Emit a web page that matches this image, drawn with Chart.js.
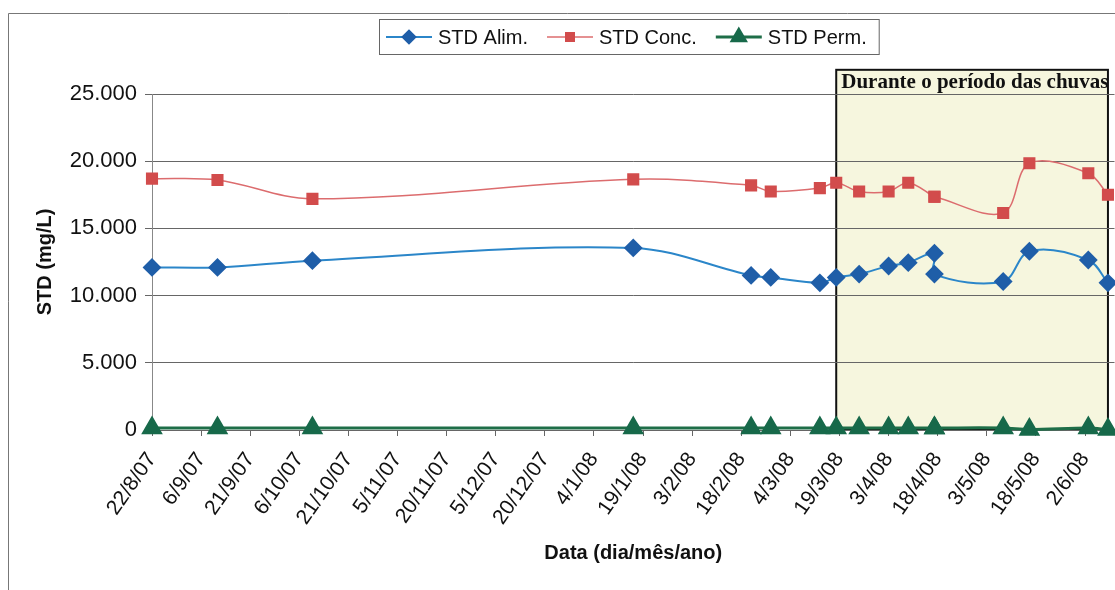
<!DOCTYPE html>
<html>
<head>
<meta charset="utf-8">
<script src="https://cdn.jsdelivr.net/npm/chart.js@4.4.1/dist/chart.umd.min.js"></script>
<style>
  html, body { margin: 0; padding: 0; background: #fff; overflow: hidden; }
  /* the reference is a crop: the chart continues a little past the right edge */
  #wrap { position: relative; width: 1127px; height: 590px; }
</style>
</head>
<body>
<div id="wrap"><canvas id="stdChart"></canvas></div>
<script>
// sampling dates (dia/mes/ano) - two samples on 17/4/08
const sampleDates = ['22/8/07', '11/9/07', '10/10/07', '16/1/08', '21/2/08', '27/2/08', '13/3/08', '18/3/08',
    '25/3/08', '3/4/08', '9/4/08', '17/4/08', '17/4/08', '8/5/08', '16/5/08', '3/6/08', '9/6/08'];
const stdAlim = [12100, 12100, 12600, 13550, 11500, 11350, 10950, 11350,
    11600, 12200, 12450, 13150, 11600, 11050, 13300, 12650, 10950];
const stdConc = [18700, 18600, 17200, 18650, 18200, 17750, 18000, 18400,
    17750, 17750, 18400, 17350, 17350, 16150, 19850, 19100, 17500];
const stdPerm = [150, 150, 150, 150, 150, 150, 150, 150,
    150, 150, 150, 150, 150, 150, 30, 150, 30];
const tickLabels = ['22/8/07', '6/9/07', '21/9/07', '6/10/07', '21/10/07', '5/11/07', '20/11/07', '5/12/07',
    '20/12/07', '4/1/08', '19/1/08', '3/2/08', '18/2/08', '4/3/08', '19/3/08', '3/4/08', '18/4/08',
    '3/5/08', '18/5/08', '2/6/08'];

// rainy period highlight
const rainStart = '18/3/08';
const rainEnd = '9/6/08';
const rainTop = 26800;
const rainLabel = 'Durante o período das chuvas';

function dayOf(s) {
    const [d, m, y] = s.split('/').map(Number);
    const [d0, m0, y0] = tickLabels[0].split('/').map(Number);
    return Math.round((Date.UTC(2000 + y, m - 1, d) - Date.UTC(2000 + y0, m0 - 1, d0)) / 86400000);
}

function fmt(v) {
    return String(v).replace(/\B(?=(\d{3})+(?!\d))/g, '.');
}

const sans = '"Liberation Sans", Arial, sans-serif';

// outer chart frame (only left/top edges are inside the crop)
const frame = {
    id: 'frame',
    beforeDraw(chart) {
        const ctx = chart.ctx;
        ctx.save();
        ctx.strokeStyle = '#777';
        ctx.lineWidth = 1;
        ctx.beginPath();
        ctx.moveTo(8.5, 590);
        ctx.lineTo(8.5, 13.5);
        ctx.lineTo(chart.width, 13.5);
        ctx.stroke();
        ctx.restore();
    }
};

const rainBox = {
    id: 'rainBox',
    beforeDraw(chart) {
        const ctx = chart.ctx;
        const xs = chart.scales.x, ys = chart.scales.y;
        const x0 = xs.getPixelForValue(dayOf(rainStart));
        const x1 = xs.getPixelForValue(dayOf(rainEnd));
        const y0 = ys.getPixelForValue(rainTop);
        const y1 = ys.getPixelForValue(0);
        ctx.save();
        ctx.fillStyle = '#f6f6de';
        ctx.fillRect(x0, y0, x1 - x0, y1 - y0);
        ctx.strokeStyle = '#111';
        ctx.lineWidth = 2;
        ctx.strokeRect(x0, y0, x1 - x0, y1 - y0);
        ctx.fillStyle = '#111';
        ctx.font = 'bold 21px "Liberation Serif", "Times New Roman", serif';
        ctx.textBaseline = 'middle';
        ctx.fillText(rainLabel, x0 + 5, y0 + 13);
        ctx.restore();
    }
};

const legendBox = {
    id: 'legendBox',
    afterDraw(chart) {
        const ctx = chart.ctx;
        const y = 37;
        let x = 386;
        ctx.save();
        ctx.font = '20px ' + sans;
        ctx.textBaseline = 'middle';
        chart.data.datasets.forEach(ds => {
            ctx.strokeStyle = ds.borderColor;
            ctx.lineWidth = ds.borderWidth;
            ctx.beginPath();
            ctx.moveTo(x, y);
            ctx.lineTo(x + 46, y);
            ctx.stroke();
            ctx.fillStyle = ds.pointBackgroundColor;
            ctx.strokeStyle = ds.pointBorderColor;
            Chart.helpers.drawPoint(ctx, {
                pointStyle: ds.pointStyle, rotation: 0, radius: ds.pointRadius * 0.8, borderWidth: 1
            }, x + 23, y);
            ctx.fillStyle = '#111';
            ctx.fillText(ds.label, x + 52, y + 1);
            x += 52 + ctx.measureText(ds.label).width + 19;
        });
        ctx.strokeStyle = '#666';
        ctx.lineWidth = 1;
        ctx.strokeRect(379.5, 19.5, x - 19 + 12 - 379, 35);
        ctx.restore();
    }
};

function points(values) {
    return sampleDates.map((s, i) => ({ x: dayOf(s), y: values[i] }));
}

const ctx = document.getElementById('stdChart').getContext('2d');
new Chart(ctx, {
    type: 'line',
    data: {
        datasets: [
            {
                label: 'STD Alim.',
                data: points(stdAlim),
                borderColor: '#2b86c9',
                borderWidth: 2,
                pointStyle: 'rectRot',
                pointRadius: 8,
                pointBackgroundColor: '#1f5ea8',
                pointBorderColor: '#1f5ea8',
                tension: 0.35,
                clip: false
            },
            {
                label: 'STD Conc.',
                data: points(stdConc),
                borderColor: '#dc6c6e',
                borderWidth: 1.5,
                pointStyle: 'rect',
                pointRadius: 7.5,
                pointBackgroundColor: '#d24c4c',
                pointBorderColor: '#d24c4c',
                tension: 0.35,
                clip: false
            },
            {
                label: 'STD Perm.',
                data: points(stdPerm),
                borderColor: '#1e6e48',
                borderWidth: 3,
                pointStyle: 'triangle',
                pointRadius: 9.5,
                pointBackgroundColor: '#17694a',
                pointBorderColor: '#17694a',
                tension: 0.35,
                clip: false
            }
        ]
    },
    options: {
        responsive: true,
        maintainAspectRatio: false,
        animation: false,
        layout: { padding: { top: 94, left: 0, right: 0, bottom: 0 } },
        plugins: {
            legend: { display: false },
            tooltip: { enabled: false }
        },
        scales: {
            x: {
                type: 'linear',
                min: 0,
                max: 294,
                afterBuildTicks: scale => {
                    scale.ticks = tickLabels.map(s => ({ value: dayOf(s) }));
                },
                afterFit: scale => {
                    scale.height = 160;
                    scale.paddingLeft = 0;
                    scale.paddingRight = 0;
                },
                ticks: {
                    autoSkip: false,
                    minRotation: 55,
                    maxRotation: 55,
                    padding: 12,
                    color: '#111',
                    font: { family: sans, size: 21 },
                    callback: (value, i) => tickLabels[i]
                },
                grid: { drawOnChartArea: false, tickLength: 6, color: '#666' },
                border: { color: '#666' },
                title: {
                    display: true,
                    text: 'Data (dia/mês/ano)',
                    color: '#111',
                    font: { family: sans, size: 20, weight: 'bold' },
                    padding: { top: 0, bottom: 25 }
                }
            },
            y: {
                min: 0,
                max: 25000,
                afterFit: scale => { scale.width = 152; },
                ticks: {
                    stepSize: 5000,
                    padding: 8,
                    color: '#111',
                    font: { family: sans, size: 22 },
                    callback: v => fmt(v)
                },
                grid: { color: '#666', tickLength: 7 },
                border: { color: '#888' },
                title: {
                    display: true,
                    text: 'STD (mg/L)',
                    color: '#111',
                    font: { family: sans, size: 20, weight: 'bold' },
                    padding: { top: 33, bottom: 0 }
                }
            }
        }
    },
    plugins: [frame, rainBox, legendBox]
});
</script>
</body>
</html>
